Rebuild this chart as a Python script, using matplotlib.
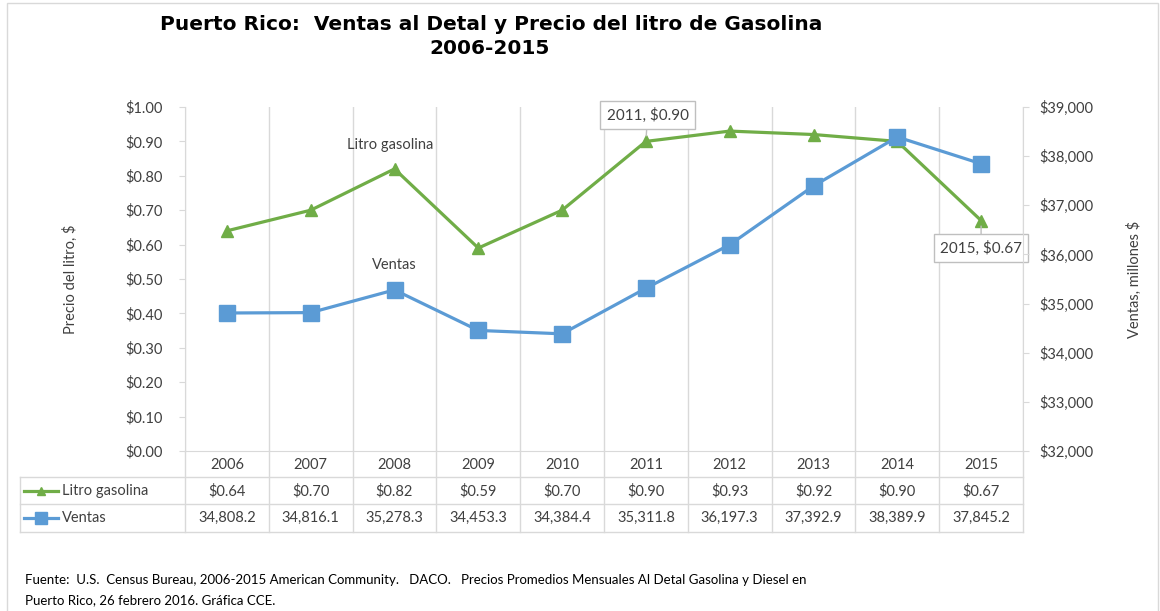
import numpy as np
import matplotlib
matplotlib.use('agg')
import matplotlib.pyplot as plt
import matplotlib.transforms as mtrans
from matplotlib.patches import Rectangle
from matplotlib.lines import Line2D

plt.rcParams['font.family'] = ['Lato', 'DejaVu Sans']

years = [2006, 2007, 2008, 2009, 2010, 2011, 2012, 2013, 2014, 2015]
litro = [0.64, 0.70, 0.82, 0.59, 0.70, 0.90, 0.93, 0.92, 0.90, 0.67]
ventas = [34808.2, 34816.1, 35278.3, 34453.3, 34384.4, 35311.8, 36197.3, 37392.9, 38389.9, 37845.2]
litro_txt = ['$0.64', '$0.70', '$0.82', '$0.59', '$0.70', '$0.90', '$0.93', '$0.92', '$0.90', '$0.67']
ventas_txt = ['34,808.2', '34,816.1', '35,278.3', '34,453.3', '34,384.4',
              '35,311.8', '36,197.3', '37,392.9', '38,389.9', '37,845.2']

green = '#70AD47'
blue = '#5B9BD5'
grid = '#D9D9D9'
txt = '#404040'
W, H = 1160, 611

def fy(px):
    return 1 - px / H

def fx(px):
    return px / W

fig = plt.figure(figsize=(11.6, 6.11), dpi=100)
ax = fig.add_axes([fx(185), fy(451), fx(1023) - fx(185), fy(107) - fy(451)])
x = np.arange(len(years))

ax.set_xlim(-0.5, len(years) - 0.5)
ax.set_ylim(0, 1.0)
ax.set_yticks(np.arange(0, 1.01, 0.1))
ax.set_yticklabels(['$%.2f' % v for v in np.arange(0, 1.01, 0.1)])
ax.set_xticks(x)
ax.set_xticklabels([str(y) for y in years])
ax.tick_params(axis='x', length=0, pad=5, labelsize=10.5, labelcolor=txt)
ax.tick_params(axis='y', length=4, pad=12, labelsize=10.5, labelcolor=txt, color=grid)
ax.set_xticks(np.arange(-0.5, len(years), 1), minor=True)
ax.tick_params(axis='x', which='minor', length=0)
ax.grid(axis='x', which='minor', color=grid, lw=1)
for s in ['top', 'right']:
    ax.spines[s].set_visible(False)
ax.spines['left'].set_color(grid)
ax.spines['bottom'].set_color(grid)
ax.set_ylabel('Precio del litro, $', fontsize=10.5, color=txt, labelpad=34)

ax.plot(x, litro, color=green, marker='^', ms=8, lw=2.3, zorder=3)

ax2 = ax.twinx()
ax2.set_ylim(32000, 39000)
ax2.set_yticks(np.arange(32000, 39001, 1000))
ax2.set_yticklabels(['${:,.0f}'.format(v) for v in np.arange(32000, 39001, 1000)])
ax2.tick_params(axis='y', length=4, pad=8, labelsize=10.5, labelcolor=txt, color=grid)
for s in ['top', 'left', 'bottom']:
    ax2.spines[s].set_visible(False)
ax2.spines['right'].set_color(grid)
ax2.set_ylabel('Ventas, millones $', fontsize=10.5, color=txt, labelpad=24)
ax2.plot(x, ventas, color=blue, marker='s', ms=11, lw=2.3, zorder=3)

# series labels
ax.text(1.95, 0.89, 'Litro gasolina', ha='center', va='center', fontsize=10.5, color=txt)
ax.text(2.0, 0.54, 'Ventas', ha='center', va='center', fontsize=10.5, color=txt)

# callouts
box = dict(boxstyle='square,pad=0.4', fc='white', ec='#BFBFBF', lw=1)
arr = dict(arrowstyle='-', color='#BFBFBF', lw=1, shrinkA=0, shrinkB=4)
ax.annotate('2011, $0.90', xy=(5, 0.90), xytext=(5.02, 0.977), ha='center', va='center',
            fontsize=11, color=txt, bbox=box, arrowprops=arr, zorder=5)
ax.annotate('2015, $0.67', xy=(9, 0.67), xytext=(9.0, 0.59), ha='center', va='center',
            fontsize=11, color=txt, bbox=box, arrowprops=arr, zorder=5)

# data table below the axes
bt = mtrans.blended_transform_factory(ax.transData, fig.transFigure)
for b in np.arange(-0.5, len(years), 1):
    fig.add_artist(Line2D([b, b], [fy(451), fy(532)], transform=bt, color=grid, lw=1))
for py in [477, 504, 532]:
    fig.add_artist(Line2D([fx(20), fx(1023)], [fy(py), fy(py)], color=grid, lw=1))
fig.add_artist(Line2D([fx(20), fx(20)], [fy(477), fy(532)], color=grid, lw=1))

for i in range(len(years)):
    fig.text(x[i], fy(491), litro_txt[i], transform=bt, ha='center', va='center',
             fontsize=10.5, color=txt)
    fig.text(x[i], fy(518), ventas_txt[i], transform=bt, ha='center', va='center',
             fontsize=10.5, color=txt)

for py, c, m, ms, lab in [(491, green, '^', 6, 'Litro gasolina'), (518, blue, 's', 8, 'Ventas')]:
    fig.add_artist(Line2D([fx(24), fx(58)], [fy(py), fy(py)], color=c, lw=2.3))
    fig.add_artist(Line2D([fx(41)], [fy(py)], color=c, marker=m, ms=ms, lw=0))
    fig.text(fx(62), fy(py), lab, ha='left', va='center', fontsize=10.5, color=txt)

# title
fig.text(fx(491), fy(25), 'Puerto Rico:  Ventas al Detal y Precio del litro de Gasolina',
         ha='center', va='center', fontsize=14.5, fontweight='bold', color='black',
         family=['DejaVu Sans'])
fig.text(fx(490), fy(49), '2006-2015', ha='center', va='center', fontsize=14.5,
         fontweight='bold', color='black', family=['DejaVu Sans'])

# source
fig.text(fx(25), fy(580), 'Fuente:  U.S.  Census Bureau, 2006-2015 American Community.   DACO.   '
         'Precios Promedios Mensuales Al Detal Gasolina y Diesel en',
         ha='left', va='center', fontsize=9.5, color='black')
fig.text(fx(25), fy(600), 'Puerto Rico, 26 febrero 2016. Gráfica CCE.',
         ha='left', va='center', fontsize=9.5, color='black')

fig.add_artist(Rectangle((fx(7), -0.01), 1 - fx(7) - fx(2), fy(3) + 0.01,
                         transform=fig.transFigure, fill=False, ec=grid, lw=1))

fig.savefig('out.png', dpi=100)
